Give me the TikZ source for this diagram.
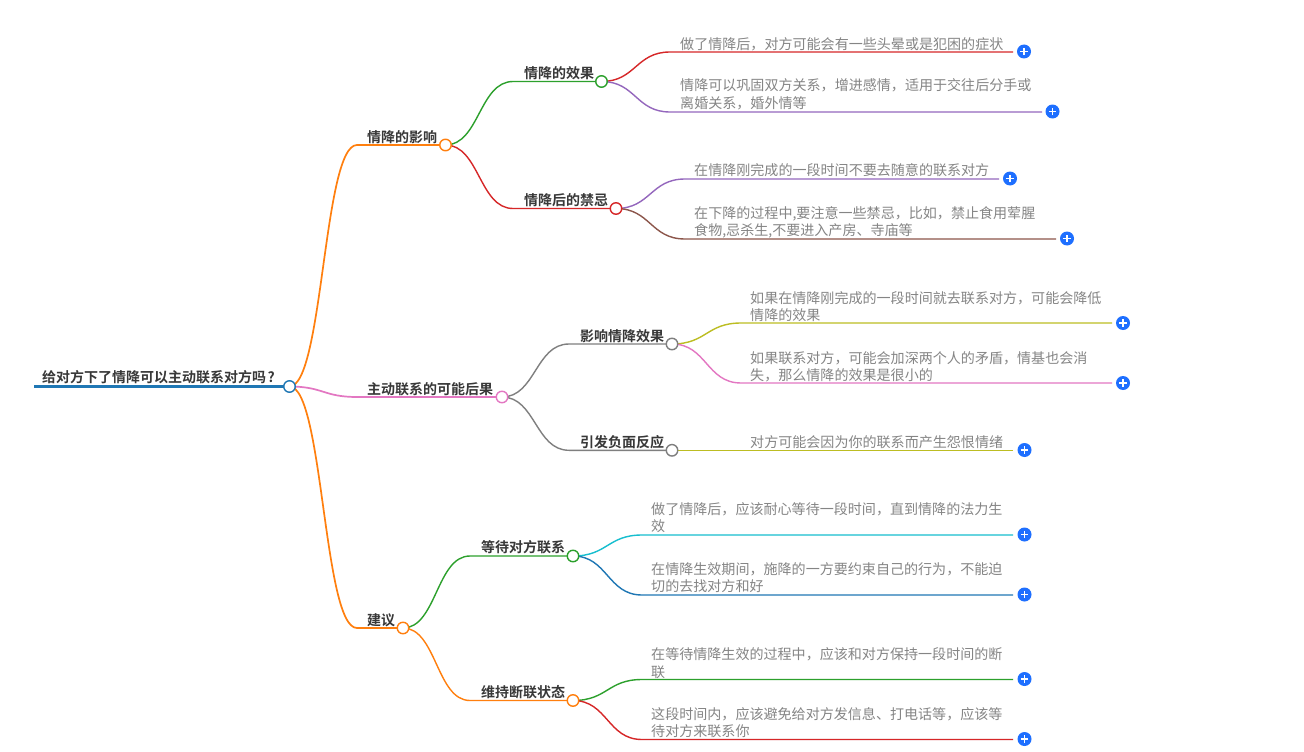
\documentclass[tikz,border=0pt]{standalone}
\usepackage{fontspec}
\setmainfont{Noto Sans CJK SC}[BoldFont={Noto Sans CJK SC Bold}]
\usetikzlibrary{calc,backgrounds}
\definecolor{cblue}{HTML}{1F77B4}
\definecolor{corange}{HTML}{FF7F0E}
\definecolor{cgreen}{HTML}{2CA02C}
\definecolor{cred}{HTML}{D62728}
\definecolor{cpurple}{HTML}{9467BD}
\definecolor{cbrown}{HTML}{8C564B}
\definecolor{cpink}{HTML}{E377C2}
\definecolor{cgray}{HTML}{7F7F7F}
\definecolor{colive}{HTML}{BCBD22}
\definecolor{ccyan}{HTML}{17BECF}
\definecolor{plusblue}{HTML}{1E6FFF}
\definecolor{leafgray}{HTML}{858585}
\tikzset{
  dot/.style={circle,draw=#1,fill=white,line width=1.4pt,minimum size=11.5pt,inner sep=0pt},
  plusdot/.style={circle,fill=plusblue,minimum size=14pt,inner sep=0pt,
    path picture={\draw[white,line width=1.3pt]
      ([xshift=-3.6pt]path picture bounding box.center)--([xshift=3.6pt]path picture bounding box.center)
      ([yshift=-3.6pt]path picture bounding box.center)--([yshift=3.6pt]path picture bounding box.center);}},
  branchtext/.style={anchor=base west,inner sep=0pt,font=\fontsize{14pt}{17pt}\selectfont\bfseries,text=black!78},
  leaftext/.style={anchor=base west,inner sep=0pt,align=left,font=\fontsize{14.05pt}{17.5pt}\selectfont,text=leafgray},
  thick1/.style={line width=1.7pt},
  thick2/.style={line width=1.4pt}
}
% colour, width style, from, curve end, line end
\newcommand{\linkcurve}[5]{%
  \draw[#1,#2] let \p1=(#3.center),\p2=(#4) in (\p1)
    .. controls ({(\x1+\x2)/2},\y1) and ({(\x1+\x2)/2},\y2) .. (\p2) -- (#5);}
\begin{document}
\begin{tikzpicture}[x=1pt,y=-1pt]
\useasboundingbox (0,0) rectangle (1304,752);

% circles
\node[dot=cblue] (root) at (289.5,386.5) {};
\node[dot=corange] (a) at (445.5,145) {};
\node[dot=cpink] (b) at (502,397) {};
\node[dot=corange] (c) at (403,628) {};
\node[dot=cgreen] (a1) at (601.5,81.5) {};
\node[dot=cred] (a2) at (616,208.5) {};
\node[dot=cgray] (b1) at (672,344) {};
\node[dot=cgray] (b2) at (672,450.3) {};
\node[dot=cgreen] (c1) at (573,556) {};
\node[dot=corange] (c2) at (573,700.5) {};

% free ends of the connectors
\coordinate (r0) at (34,386.5);
\coordinate (as) at (357,145); \coordinate (bs) at (357,397); \coordinate (cs) at (357,628);
\coordinate (a1s) at (513,81.5); \coordinate (a2s) at (513,208.5);
\coordinate (b1s) at (569,344); \coordinate (b2s) at (569,450.3);
\coordinate (c1s) at (470,556); \coordinate (c2s) at (470,700.5);
\coordinate (l1s) at (670,52); \coordinate (l1e) at (1013,52);
\coordinate (l2s) at (670,112); \coordinate (l2e) at (1042,112);
\coordinate (l3s) at (685,179); \coordinate (l3e) at (999,179);
\coordinate (l4s) at (685,239); \coordinate (l4e) at (1056,239);
\coordinate (l5s) at (741,323); \coordinate (l5e) at (1112,323);
\coordinate (l6s) at (741,383); \coordinate (l6e) at (1112,383);
\coordinate (l7e) at (1013,450.3);
\coordinate (l8s) at (642,535); \coordinate (l8e) at (1013,535);
\coordinate (l9s) at (642,595); \coordinate (l9e) at (1013,595);
\coordinate (l10s) at (642,679.5); \coordinate (l10e) at (1013,679.5);
\coordinate (l11s) at (642,739.5); \coordinate (l11e) at (1013,739.5);

\begin{pgfonlayer}{background}
\fill[white] (0,0) rectangle (1304,752);
\draw[cblue,line width=3pt] (r0) -- (root.center);
\linkcurve{corange}{thick1}{root}{as}{a.center}
\linkcurve{cpink}{thick1}{root}{bs}{b.center}
\linkcurve{corange}{thick1}{root}{cs}{c.center}
\linkcurve{cgreen}{thick2}{a}{a1s}{a1.center}
\linkcurve{cred}{thick2}{a}{a2s}{a2.center}
\linkcurve{cgray}{thick2}{b}{b1s}{b1.center}
\linkcurve{cgray}{thick2}{b}{b2s}{b2.center}
\linkcurve{cgreen}{thick2}{c}{c1s}{c1.center}
\linkcurve{corange}{thick2}{c}{c2s}{c2.center}
\linkcurve{cred}{thick2}{a1}{l1s}{l1e}
\linkcurve{cpurple}{thick2}{a1}{l2s}{l2e}
\linkcurve{cpurple}{thick2}{a2}{l3s}{l3e}
\linkcurve{cbrown}{thick2}{a2}{l4s}{l4e}
\linkcurve{colive}{thick2}{b1}{l5s}{l5e}
\linkcurve{cpink}{thick2}{b1}{l6s}{l6e}
\draw[colive,thick2] (b2.center) -- (l7e);
\linkcurve{ccyan}{thick2}{c1}{l8s}{l8e}
\linkcurve{cblue}{thick2}{c1}{l9s}{l9e}
\linkcurve{cgreen}{thick2}{c2}{l10s}{l10e}
\linkcurve{cred}{thick2}{c2}{l11s}{l11e}
\end{pgfonlayer}

% plus buttons
\node[plusdot] (p1) at (1024,51.5) {};
\node[plusdot] (p2) at (1052.5,111.5) {};
\node[plusdot] (p3) at (1010,178.5) {};
\node[plusdot] (p4) at (1067,238.5) {};
\node[plusdot] (p5) at (1123,323) {};
\node[plusdot] (p6) at (1123,383) {};
\node[plusdot] (p7) at (1024.5,450) {};
\node[plusdot] (p8) at (1024.5,534.5) {};
\node[plusdot] (p9) at (1024.5,594.5) {};
\node[plusdot] (p10) at (1024.5,679) {};
\node[plusdot] (p11) at (1024.5,739) {};

% branch texts
\node[branchtext] (troot) at (42,382.5) {给对方下了情降可以主动联系对方吗\kern1.5pt?};
\node[branchtext] (ta) at (367,142.5) {情降的影响};
\node[branchtext] (tb) at (367,394.5) {主动联系的可能后果};
\node[branchtext] (tc) at (367,625.5) {建议};
\node[branchtext] (ta1) at (524,78.5) {情降的效果};
\node[branchtext] (ta2) at (524,205.5) {情降后的禁忌};
\node[branchtext] (tb1) at (580,341.5) {影响情降效果};
\node[branchtext] (tb2) at (580,447.5) {引发负面反应};
\node[branchtext] (tc1) at (481,552.5) {等待对方联系};
\node[branchtext] (tc2) at (481,697.5) {维持断联状态};

% leaf texts (anchored on the last line)
\node[leaftext] (t1) at (680,49.5) {做了情降后，对方可能会有一些头晕或是犯困的症状};
\node[leaftext] (t2) at (680,108.5) {情降可以巩固双方关系，增进感情，适用于交往后分手或\\离婚关系，婚外情等};
\node[leaftext] (t3) at (694,175.5) {在情降刚完成的一段时间不要去随意的联系对方};
\node[leaftext] (t4) at (694,235.5) {在下降的过程中,要注意一些禁忌，比如，禁止食用荤腥\\食物,忌杀生,不要进入产房、寺庙等};
\node[leaftext] (t5) at (750,320.5) {如果在情降刚完成的一段时间就去联系对方，可能会降低\\情降的效果};
\node[leaftext] (t6) at (750,380.5) {如果联系对方，可能会加深两个人的矛盾，情基也会消\\失，那么情降的效果是很小的};
\node[leaftext] (t7) at (750,447.5) {对方可能会因为你的联系而产生怨恨情绪};
\node[leaftext] (t8) at (651,531.5) {做了情降后，应该耐心等待一段时间，直到情降的法力生\\效};
\node[leaftext] (t9) at (651,591.5) {在情降生效期间，施降的一方要约束自己的行为，不能迫\\切的去找对方和好};
\node[leaftext] (t10) at (651,677) {在等待情降生效的过程中，应该和对方保持一段时间的断\\联};
\node[leaftext] (t11) at (651,736.5) {这段时间内，应该避免给对方发信息、打电话等，应该等\\待对方来联系你};
\end{tikzpicture}
\end{document}
